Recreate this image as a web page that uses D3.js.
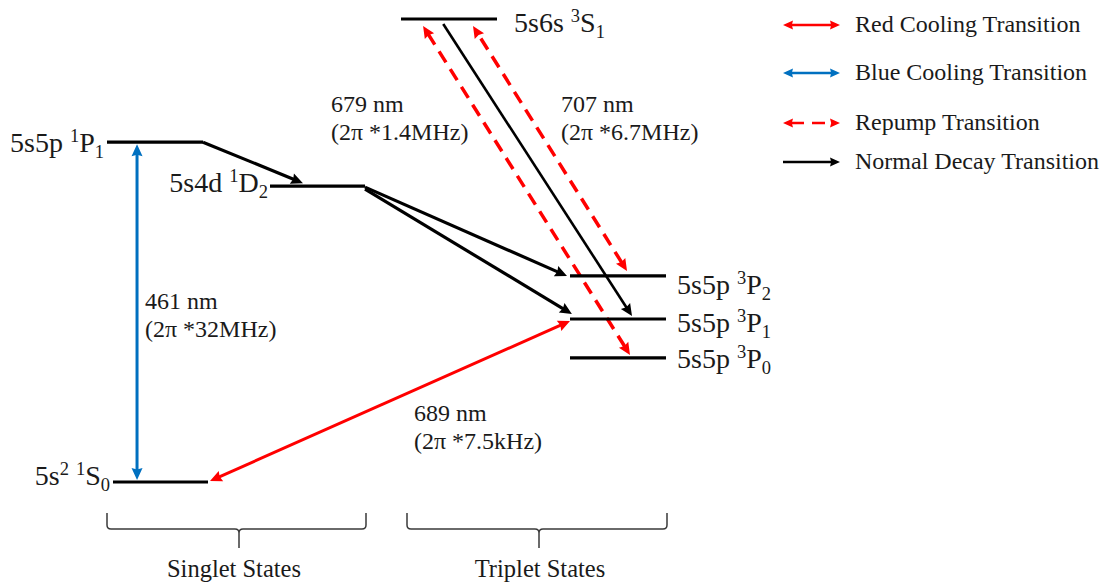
<!DOCTYPE html>
<html>
<head>
<meta charset="utf-8">
<script src="https://cdn.jsdelivr.net/npm/d3@7"></script>
<style>
  html, body { margin: 0; padding: 0; background: #fff; }
  svg { display: block; }
</style>
</head>
<body>
<svg id="chart" width="1106" height="584"></svg>
<script>
// Strontium level scheme: levels, transitions and labels
const levelIds        = ["1S0", "1P1", "1D2", "3S1", "3P2", "3P1", "3P0"];
const levelConfig     = ["5s", "5s5p", "5s4d", "5s6s", "5s5p", "5s5p", "5s5p"];
const levelConfigSup  = ["2", "", "", "", "", "", ""];
const levelMult       = ["1", "1", "1", "3", "3", "3", "3"];
const levelL          = ["S", "P", "D", "S", "P", "P", "P"];
const levelJ          = ["0", "1", "2", "1", "2", "1", "0"];
// schematic (not to scale) energy of each level, diagram units
const levelHeight     = [0, 73.4, 63.9, 100, 44.5, 35.2, 26.8];

const transFrom = ["1S0", "1S0", "1P1", "1D2", "1D2", "3S1", "3P0", "3P2"];
const transTo   = ["1P1", "3P1", "1D2", "3P2", "3P1", "3P1", "3S1", "3S1"];
const transKind = ["blue", "red", "decay", "decay", "decay", "decay", "repump", "repump"];

const lineWavelength = ["461 nm", "689 nm", "679 nm", "707 nm"];
const lineLinewidth  = ["(2π *32MHz)", "(2π *7.5kHz)", "(2π *1.4MHz)", "(2π *6.7MHz)"];

const legendKinds  = ["red", "blue", "repump", "decay"];
const legendLabels = ["Red Cooling Transition", "Blue Cooling Transition", "Repump Transition", "Normal Decay Transition"];

const groupLabels = ["Singlet States", "Triplet States"];

// ---------- layout ----------
const FONT = "'Liberation Serif', 'Times New Roman', serif";
const TEXT = "#1a1a1a";
const svg = d3.select("#chart");

const y = d3.scaleLinear().domain([0, 100]).range([482, 19]);

const levelSpan = {
  "1S0": [113, 208], "1P1": [107, 203], "1D2": [270, 365], "3S1": [401, 497],
  "3P2": [570, 666], "3P1": [570, 666], "3P0": [570, 666]
};
// label anchor: [x, baseline offset from level, text-anchor]
const levelLabelPos = {
  "1S0": [110, 3, "end"], "1P1": [104, 10, "end"], "1D2": [268, 6, "end"],
  "3S1": [514, 13, "start"], "3P2": [677, 18, "start"], "3P1": [677, 13, "start"],
  "3P0": [677, 10, "start"]
};
// arrow end anchors: fraction along level, extra dx, dy
const transAnchor = [
  { a: [0.253, 0, -2], b: [0.3125, 0, 2] },
  { a: [1, 2, -1],     b: [0, 0, 2] },
  { a: [1, 0, 0],      b: [0.347, 0, -3] },
  { a: [1, 0, 1],      b: [0, -3, 0] },
  { a: [1, 0, 3],      b: [0.02, 0, -5] },
  { a: [0.44, 0, 5],   b: [0.646, 0, -3] },
  { a: [0.625, 0, -3], b: [0.23, 0, 7] },
  { a: [0.594, 0, -5], b: [0.75, 0, 7] }
];
const transWidth = [3, 3, 3.2, 3.2, 3.2, 2.6, 3.5, 3.5];

const kindStyle = {
  red:    { color: "#ff0000", dash: null,   both: true },
  blue:   { color: "#0070c0", dash: null,   both: true },
  repump: { color: "#ff0000", dash: "13,8", both: true },
  decay:  { color: "#000000", dash: null,   both: false }
};

const annotPos = [[145, 309], [414, 421], [331, 112], [561, 112]];
const legendRowY = [25, 73, 123, 162];
// brace: [left, right, tick x, label centre x]
const groupBrace = [[107, 366, 239, 234], [407, 667, 539, 540]];

// ---------- helpers ----------
function levelPoint(id, anchor) {
  const s = levelSpan[id];
  const i = levelIds.indexOf(id);
  return [s[0] + anchor[0] * (s[1] - s[0]) + anchor[1], y(levelHeight[i]) + anchor[2]];
}

function head(g, tip, from, len, half, color) {
  const dx = tip[0] - from[0], dy = tip[1] - from[1];
  const d = Math.hypot(dx, dy), ux = dx / d, uy = dy / d;
  const bx = tip[0] - ux * len, by = tip[1] - uy * len;
  const pts = [tip, [bx - uy * half, by + ux * half], [bx + ux * len * 0.12, by + uy * len * 0.12], [bx + uy * half, by - ux * half]];
  g.append("path").attr("d", "M" + pts.map(p => p.join(",")).join("L") + "Z").attr("fill", color);
}

function arrow(g, p0, p1, kind, width, len, half) {
  const st = kindStyle[kind];
  const dx = p1[0] - p0[0], dy = p1[1] - p0[1];
  const d = Math.hypot(dx, dy), ux = dx / d, uy = dy / d;
  const cut = len * 0.8;
  const s = st.both ? [p0[0] + ux * cut, p0[1] + uy * cut] : p0;
  const e = [p1[0] - ux * cut, p1[1] - uy * cut];
  g.append("line").attr("x1", s[0]).attr("y1", s[1]).attr("x2", e[0]).attr("y2", e[1])
    .attr("stroke", st.color).attr("stroke-width", width)
    .attr("stroke-dasharray", st.dash);
  head(g, p1, p0, len, half, st.color);
  if (st.both) head(g, p0, p1, len, half, st.color);
}

// ---------- transitions ----------
const gT = svg.append("g");
transFrom.forEach((f, i) => {
  const p0 = levelPoint(f, transAnchor[i].a);
  const p1 = levelPoint(transTo[i], transAnchor[i].b);
  if (transKind[i] === "blue") p1[0] = p0[0];
  arrow(gT, p0, p1, transKind[i], transWidth[i], 12, 5.5);
});

// ---------- levels ----------
const gL = svg.append("g");
gL.selectAll("line").data(levelIds).join("line")
  .attr("x1", d => levelSpan[d][0]).attr("x2", d => levelSpan[d][1])
  .attr("y1", (d, i) => y(levelHeight[i])).attr("y2", (d, i) => y(levelHeight[i]))
  .attr("stroke", "#000").attr("stroke-width", 3.2);

const LS = 28, SS = 18.5;
levelIds.forEach((id, i) => {
  const pos = levelLabelPos[id];
  const by = y(levelHeight[i]) + pos[1];
  const t = gL.append("text").attr("x", pos[0]).attr("y", by)
    .attr("text-anchor", pos[2]).attr("font-family", FONT)
    .attr("font-size", LS).attr("fill", TEXT);
  t.append("tspan").text(levelConfig[i]);
  if (levelConfigSup[i]) {
    t.append("tspan").attr("font-size", SS).attr("dy", -10).text(levelConfigSup[i]);
    t.append("tspan").attr("dy", 10).text("\u00a0");
  } else {
    t.append("tspan").text("\u00a0");
  }
  t.append("tspan").attr("font-size", SS).attr("dy", -10).text(levelMult[i]);
  t.append("tspan").attr("dy", 10).text(levelL[i]);
  t.append("tspan").attr("font-size", SS).attr("dy", 6).text(levelJ[i]);
});

// ---------- wavelength / linewidth annotations ----------
const gA = svg.append("g").attr("font-family", FONT).attr("font-size", 24).attr("fill", TEXT);
lineWavelength.forEach((w, i) => {
  gA.append("text").attr("x", annotPos[i][0]).attr("y", annotPos[i][1]).text(w);
  gA.append("text").attr("x", annotPos[i][0]).attr("y", annotPos[i][1] + 28).text(lineLinewidth[i]);
});

// ---------- legend ----------
const gLeg = svg.append("g");
legendKinds.forEach((k, i) => {
  const yy = legendRowY[i];
  arrow(gLeg, [783, yy], [840, yy], k, 2.6, 10, 4.5);
  gLeg.append("text").attr("x", 855).attr("y", yy + 7)
    .attr("font-family", FONT).attr("font-size", 24).attr("fill", TEXT)
    .text(legendLabels[i]);
});

// ---------- singlet / triplet braces ----------
const gB = svg.append("g");
groupLabels.forEach((lab, i) => {
  const [x0, x1, m, lx] = groupBrace[i];
  const top = 513, hy = 529, bot = 548, r = 4;
  const d = `M${x0},${top} L${x0},${hy - r} Q${x0},${hy} ${x0 + r},${hy} L${m - r},${hy} Q${m},${hy} ${m},${hy + r} L${m},${bot}` +
            ` M${m},${hy + r} Q${m},${hy} ${m + r},${hy} L${x1 - r},${hy} Q${x1},${hy} ${x1},${hy - r} L${x1},${top}`;
  gB.append("path").attr("d", d).attr("fill", "none").attr("stroke", "#3a3a3a").attr("stroke-width", 1.5);
  gB.append("text").attr("x", lx).attr("y", 577).attr("text-anchor", "middle")
    .attr("font-family", FONT).attr("font-size", 24.5).attr("fill", TEXT).text(lab);
});
</script>
</body>
</html>
